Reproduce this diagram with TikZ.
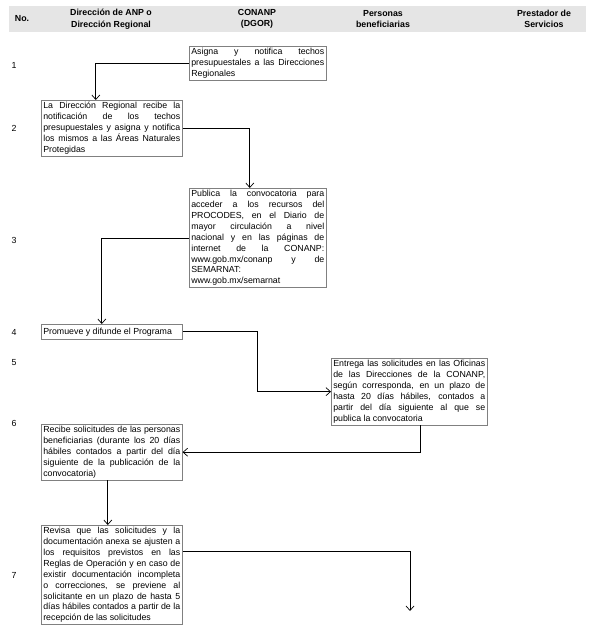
\documentclass[tikz,border=0pt]{standalone}
\usepackage{fontspec}
\setmainfont{Liberation Sans}
\usetikzlibrary{arrows.meta,positioning}
\definecolor{headgray}{RGB}{229,229,229}
\definecolor{boxgray}{RGB}{128,128,128}
\hyphenpenalty=10000
\tolerance=9999

\begin{document}
\begin{tikzpicture}[x=1pt,y=-1pt,>={Straight Barb[length=4.5pt,width=8pt]},
  every node/.style={font=\fontsize{8.8}{10.9}\selectfont},
  titulo/.style={font=\fontsize{8.8}{11.5}\selectfont\bfseries,align=center},
  paso/.style={draw=boxgray,line width=0.6pt,anchor=north west,inner sep=2pt,align=justify,text width=#1},
  paso/.default=137pt,
  flecha/.style={->,line width=0.7pt}]
\useasboundingbox (0,0) rectangle (590,631);
% encabezado
\fill[headgray] (9,6) rectangle (586,32);
\node[titulo] (hno) at (22,19) {No.};
\node[titulo] (hdir) at (111,19) {Dirección de ANP o\\Dirección Regional};
\node[titulo] (hcon) at (257,19) {CONANP\\(DGOR)};
\node[titulo] (hper) at (383,19) {Personas\\beneficiarias};
\node[titulo] (hpre) at (544,19) {Prestador de\\Servicios};
% numeros
\foreach \n/\y in {1/65,2/128,3/240,4/332,5/363,6/423,7/575}
  \node (n\n) at (14,\y) {\n};
% pasos
\node[paso=133pt] (b1) at (189,46) {Asigna y notifica techos\linebreak presupuestales a las Direcciones\linebreak Regionales};
\node[paso] (b2) at (41,100) {La Dirección Regional recibe la\linebreak notificación de los techos\linebreak presupuestales y asigna y notifica\linebreak los mismos a las Áreas Naturales\linebreak Protegidas};
\node[paso=133pt] (b3) at (189,188) {Publica la convocatoria para\linebreak acceder a los recursos del\linebreak PROCODES, en el Diario de\linebreak mayor circulación a nivel\linebreak nacional y en las páginas de\linebreak internet de la CONANP:\linebreak www.gob.mx/conanp y de\linebreak SEMARNAT:\linebreak www.gob.mx/semarnat};
\node[paso,minimum height=15pt] (b4) at (41,324) {Promueve y difunde el Programa};
\node[paso=152pt] (b5) at (331,358) {Entrega las solicitudes en las Oficinas\linebreak de las Direcciones de la CONANP,\linebreak según corresponda, en un plazo de\linebreak hasta 20 días hábiles, contados a\linebreak partir del día siguiente al que se\linebreak publica la convocatoria};
\node[paso] (b6) at (41,424) {Recibe solicitudes de las personas\linebreak beneficiarias (durante los 20 días\linebreak hábiles contados a partir del día\linebreak siguiente de la publicación de la\linebreak convocatoria)};
\node[paso] (b7) at (41,525) {Revisa que las solicitudes y la\linebreak documentación anexa se ajusten a\linebreak los requisitos previstos en las\linebreak Reglas de Operación y en caso de\linebreak existir documentación incompleta\linebreak o correcciones, se previene al\linebreak solicitante en un plazo de hasta 5\linebreak días hábiles contados a partir de la\linebreak recepción de las solicitudes};
\coordinate (fin) at (410,611);
% flechas
\draw[flecha] (b1.west) -| ([xshift=-16pt]b2.north);
\draw[flecha] (b2.east) -| ([xshift=-8pt]b3.north);
\draw[flecha] (b3.west) -| ([xshift=-10pt]b4.north);
\draw[flecha] (b4.east) -- ++(75,0) |- (b5.west);
\draw[flecha] ([xshift=11pt]b5.south) |- (b6.east);
\draw[flecha] ([xshift=-4pt]b6.south) -- ([xshift=-4pt]b7.north);
\draw[flecha] ([yshift=24pt]b7.east) -| (fin);
\end{tikzpicture}
\end{document}
